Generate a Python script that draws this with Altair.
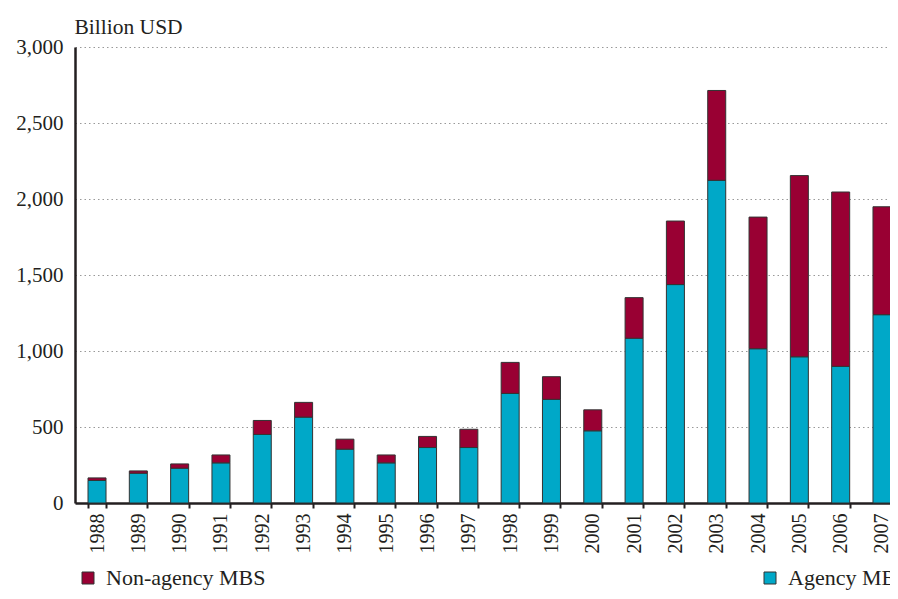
import altair as alt
import pandas as pd

years = [str(y) for y in range(1988, 2008)]
agency = [148, 196, 229, 264, 451, 565, 354, 264, 365, 365,
          721, 682, 475, 1084, 1437, 2123, 1015, 962, 899, 1239]
non_agency = [17, 15, 28, 52, 92, 97, 66, 52, 73, 120,
              204, 149, 138, 267, 418, 591, 866, 1192, 1147, 710]
series_names = ["Non-agency MBS", "Agency MBS"]
series_colors = ["#990033", "#00a8c8"]
y_ticks = [0, 500, 1000, 1500, 2000, 2500, 3000]

rows = []
for y, a, n in zip(years, agency, non_agency):
    rows.append({"Year": y, "Series": "Agency MBS", "Value": a, "Order": 0})
    rows.append({"Year": y, "Series": "Non-agency MBS", "Value": n, "Order": 1})
df = pd.DataFrame(rows)

font = "Liberation Serif, DejaVu Serif, serif"
ink = "#231f20"

chart = alt.Chart(df).mark_bar(stroke="#333333", strokeWidth=1).encode(
    x=alt.X("Year:N", sort=years,
            scale=alt.Scale(range=[0, 829], paddingInner=0.564, paddingOuter=0.315),
            axis=alt.Axis(title=None, labelAngle=-90, labelFontSize=20, labelFont=font,
                          labelColor=ink, tickBand="extent", tickSize=5, tickWidth=2,
                          tickColor=ink, domainColor=ink, domainWidth=2.5,
                          labelPadding=5, grid=False)),
    y=alt.Y("Value:Q", stack="zero",
            scale=alt.Scale(domain=[0, 3000], nice=False),
            axis=alt.Axis(title="Billion USD", titleAngle=0, titleAlign="left",
                          titleX=-1, titleY=-14, titleBaseline="alphabetic",
                          titleFont=font, titleFontSize=21.5, titleFontWeight="normal",
                          titleColor=ink, values=y_ticks, format=",.0f",
                          labelFont=font, labelFontSize=21, labelColor=ink,
                          ticks=False, labelPadding=12, domainColor=ink, domainWidth=2.5,
                          grid=True, gridDash=[1.5, 3], gridColor="#999999", gridWidth=1)),
    color=alt.Color("Series:N",
                    scale=alt.Scale(domain=series_names, range=series_colors),
                    legend=alt.Legend(title=None, orient="none", legendX=2, legendY=520,
                                      direction="horizontal", columns=2, columnPadding=493,
                                      symbolType="square", symbolSize=144,
                                      symbolStrokeColor="#333333", symbolStrokeWidth=1,
                                      labelFont=font, labelFontSize=22, labelColor=ink,
                                      labelOffset=7, labelLimit=400, padding=0)),
    order=alt.Order("Order:Q"),
).properties(
    width=815, height=456,
    autosize=alt.AutoSizeParams(type="none"),
    padding={"left": 67, "top": 39, "right": 0, "bottom": 88},
).configure_view(stroke=None)

chart.save("out.html", embed_options={"renderer": "svg", "actions": False})
